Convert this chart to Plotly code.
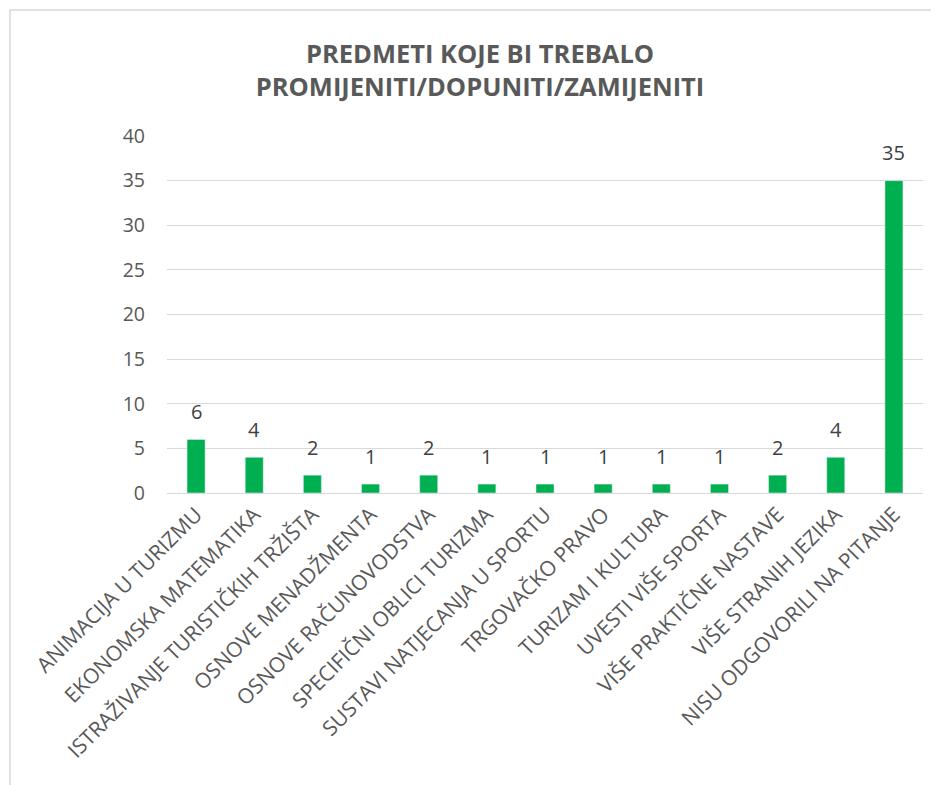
import plotly.graph_objects as go

categories = [
    "ANIMACIJA U TURIZMU",
    "EKONOMSKA MATEMATIKA",
    "ISTRAŽIVANJE TURISTIČKIH TRŽIŠTA",
    "OSNOVE MENADŽMENTA",
    "OSNOVE RAČUNOVODSTVA",
    "SPECIFIČNI OBLICI TURIZMA",
    "SUSTAVI NATJECANJA U SPORTU",
    "TRGOVAČKO PRAVO",
    "TURIZAM I KULTURA",
    "UVESTI VIŠE SPORTA",
    "VIŠE PRAKTIČNE NASTAVE",
    "VIŠE STRANIH JEZIKA",
    "NISU ODGOVORILI NA PITANJE",
]
values = [6, 4, 2, 1, 2, 1, 1, 1, 1, 1, 2, 4, 35]
y_ticks = [0, 5, 10, 15, 20, 25, 30, 35, 40]

W, H = 931, 777
L, R, T, B = 159, 16, 128, 292
pw, ph = W - L - R, H - T - B

fig = go.Figure(
    go.Bar(
        x=categories,
        y=values,
        marker=dict(color="#00B050"),
        width=0.31,
    )
)
for c, v in zip(categories, values):
    fig.add_annotation(
        x=c,
        y=v,
        text=str(v),
        showarrow=False,
        yanchor="middle",
        yshift=28,
        font=dict(family="Open Sans", size=20, color="#404040"),
    )

fig.update_layout(
    width=W,
    height=H,
    margin=dict(l=L, r=R, t=T, b=B),
    paper_bgcolor="white",
    plot_bgcolor="white",
    showlegend=False,
    title=dict(
        text="<b>PREDMETI KOJE BI TREBALO<br>PROMIJENITI/DOPUNITI/ZAMIJENITI</b>",
        x=472 / W,
        xanchor="center",
        y=1 - 55 / H,
        yanchor="middle",
        font=dict(family="Open Sans", size=25.5, color="#595959"),
    ),
    bargap=0.69,
    font=dict(family="Open Sans", color="#595959"),
)
fig.update_xaxes(
    tickangle=-45,
    tickfont=dict(family="Open Sans", size=21, color="#595959"),
    showgrid=False,
    showline=True,
    linecolor="#D9D9D9",
    linewidth=1,
    ticks="",
)
fig.update_yaxes(
    range=[0, 40],
    tickvals=y_ticks,
    tickfont=dict(family="Open Sans", size=19.5, color="#595959"),
    showgrid=True,
    gridcolor="#D9D9D9",
    gridwidth=1,
    zeroline=False,
    showline=False,
    ticks="",
    ticklabelstandoff=21,
)
fig.add_shape(
    type="rect",
    xref="paper",
    yref="paper",
    x0=(2 - L) / pw,
    x1=1.2,
    y0=-1.0,
    y1=1 + (T - 2) / ph,
    line=dict(color="#D9D9D9", width=1.5),
    fillcolor="rgba(0,0,0,0)",
    layer="below",
)
fig.write_html("out.html")
